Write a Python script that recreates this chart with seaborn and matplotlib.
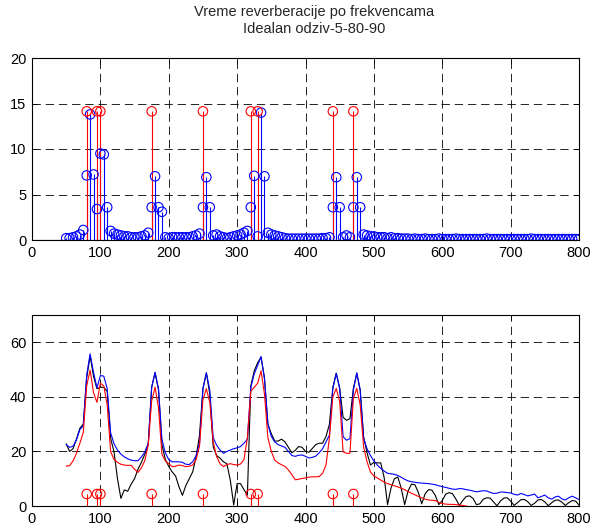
import numpy as np
import seaborn as sns
import matplotlib.pyplot as plt

# frequency axis (Hz), one point every 5 Hz
freq = np.arange(50, 805, 5)

# ideal modes (red stems)
modes = [80, 95, 100, 175, 250, 320, 330, 440, 470]
mode_top = [14.14, 14.14, 14.14, 14.14, 14.14, 14.14, 14.14, 14.14, 14.14]
mode_bot = [4.4, 4.4, 4.4, 4.4, 4.4, 4.4, 4.4, 4.4, 4.4]

# measured reverberation per frequency (blue stems, top)
t_stem = [
    0.2, 0.2, 0.3, 0.4, 0.6, 1.1, 7.1, 13.8, 7.2, 3.4,
    9.5, 9.4, 3.6, 1.0, 0.7, 0.6, 0.5, 0.4, 0.4, 0.3,
    0.3, 0.3, 0.4, 0.5, 0.8, 3.6, 7.0, 3.6, 3.1, 0.3,
    0.2, 0.3, 0.3, 0.3, 0.3, 0.3, 0.3, 0.4, 0.5, 0.7,
    3.6, 6.9, 3.6, 0.5, 0.6, 0.4, 0.3, 0.2, 0.3, 0.4,
    0.5, 0.6, 0.8, 1.0, 3.6, 7.05, 0.4, 14.0, 7.0, 0.8,
    0.6, 0.5, 0.4, 0.3, 0.2, 0.15, 0.15, 0.15, 0.15, 0.15,
    0.15, 0.15, 0.15, 0.15, 0.15, 0.2, 0.2, 0.3, 3.6, 6.9,
    3.6, 0.3, 0.5, 0.3, 3.6, 6.9, 3.6, 0.6, 0.5, 0.4,
    0.4, 0.3, 0.3, 0.3, 0.2, 0.3, 0.2, 0.2, 0.15, 0.15,
    0.15, 0.1, 0.15, 0.1, 0.1, 0.15, 0.1, 0.1, 0.1, 0.15,
    0.1, 0.1, 0.1, 0.1, 0.15, 0.1, 0.1, 0.1, 0.1, 0.1,
    0.1, 0.1, 0.1, 0.15, 0.1, 0.1, 0.1, 0.1, 0.1, 0.1,
    0.1, 0.1, 0.1, 0.1, 0.1, 0.1, 0.15, 0.1, 0.1, 0.1,
    0.1, 0.1, 0.1, 0.1, 0.1, 0.1, 0.1, 0.1, 0.1, 0.1,
    0.1,
]

# bottom curves
blue_line = [
    22.6, 21.5, 21.9, 24.2, 28.0, 29.3, 48.0, 55.8, 49.0, 43.3,
    47.8, 47.6, 43.0, 26.8, 22.8, 20.5, 19.0, 18.0, 17.3, 16.8,
    16.6, 16.6, 18.0, 19.8, 23.0, 43.5, 49.0, 43.0, 24.5, 19.5,
    17.0, 16.2, 16.2, 16.2, 16.0, 15.3, 15.2, 16.2, 18.5, 23.0,
    43.0, 48.8, 42.5, 25.0, 22.3, 20.5, 19.3, 20.0, 20.5, 21.0,
    21.3, 21.8, 23.0, 24.5, 43.5, 48.4, 51.5, 54.8, 46.5, 30.0,
    25.5, 23.5, 22.5, 22.0, 21.5, 20.0, 18.5, 18.2, 18.6, 18.7,
    18.2, 17.6, 17.8, 18.3, 19.5, 21.0, 23.5, 26.0, 43.1, 48.6,
    43.1, 25.4, 24.1, 24.7, 42.4, 48.8, 42.4, 24.7, 21.0, 18.5,
    16.5, 15.0, 13.8, 12.8, 12.0, 11.8, 11.6, 11.2, 10.5, 9.8,
    9.2, 8.9, 8.7, 8.5, 8.4, 8.3, 8.2, 8.0, 7.8, 7.4,
    7.1, 6.8, 6.5, 6.2, 6.1, 6.4, 6.3, 6.0, 5.8, 5.5,
    5.2, 5.4, 5.6, 5.5, 5.0, 4.6, 4.7, 5.1, 5.1, 4.9,
    4.8, 4.3, 4.0, 4.6, 4.2, 3.7, 4.0, 4.4, 3.0, 3.5,
    4.0, 3.0, 2.5, 3.3, 3.6, 2.6, 2.2, 3.0, 3.6, 3.0,
    2.4,
]
black_line = [
    22.8, 20.0, 21.0, 24.5, 28.5, 30.0, 47.0, 55.0, 47.5, 43.0,
    43.5, 43.5, 42.0, 24.8, 19.8, 10.0, 2.8, 5.9, 5.4, 8.0,
    10.0, 13.5, 16.0, 19.0, 22.5, 43.5, 48.8, 42.5, 22.5, 17.0,
    14.5, 12.5, 11.0, 7.0, 3.9, 7.5, 10.0, 12.5, 18.0, 26.0,
    43.0, 48.8, 41.0, 21.7, 18.5, 17.5, 16.2, 15.5, 9.5, 0.4,
    8.2, 8.2, 6.0, 4.0, 44.0, 49.5, 52.5, 54.5, 47.0, 30.0,
    26.5, 23.8, 23.8, 24.5, 23.5, 21.5, 19.5, 20.4, 21.8, 21.5,
    20.0, 19.7, 21.1, 22.5, 23.0, 23.0, 25.5, 30.0, 43.5, 48.7,
    43.1, 32.5, 31.4, 32.0, 43.1, 48.6, 42.5, 25.4, 19.5, 15.0,
    16.0, 15.8, 15.8, 10.5, 0.5, 6.5, 10.0, 10.6, 6.5, 0.5,
    5.5, 8.0, 7.8, 5.0, 0.8, 4.5, 6.0, 5.8, 3.8, 0.5,
    2.0, 4.3, 4.9, 4.5, 2.5, 0.2, 2.0, 3.5, 3.7, 2.8,
    0.5, 0.8, 2.5, 3.0, 2.9, 1.5, 0.1, 1.8, 2.9, 3.0,
    1.8, 0.2, 1.2, 2.3, 2.4, 1.6, 0.2, 1.0, 2.2, 2.4,
    1.5, 0.1, 1.2, 2.1, 2.2, 1.4, 0.2, 1.2, 2.0, 1.8,
    0.3,
]
red_line = [
    14.6, 14.8, 16.5, 19.3, 23.0, 27.0, 44.0, 49.8, 41.5, 38.0,
    45.0, 44.0, 37.0, 20.0, 17.0, 16.0, 15.3, 15.0, 14.9, 14.9,
    13.5, 12.3, 14.0, 16.6, 22.3, 38.5, 43.5, 36.0, 19.0, 16.5,
    15.5, 14.4, 14.6, 15.0, 14.8, 14.4, 14.6, 15.0, 17.0, 22.0,
    39.0, 43.0, 38.0, 23.5, 18.1, 15.5, 14.4, 15.2, 15.5, 15.2,
    15.0, 15.4, 17.0, 25.0, 42.0, 43.5, 45.0, 49.5, 41.0, 25.0,
    20.0, 16.8, 15.8, 15.1, 14.5, 13.2, 11.5, 9.6, 9.8, 10.1,
    10.3, 10.6, 10.7, 10.7, 10.8, 12.0, 15.0, 25.0, 40.0, 43.1,
    38.2, 19.9, 19.3, 19.3, 39.4, 43.1, 37.0, 21.7, 16.2, 12.5,
    11.0, 10.3, 9.5, 8.8, 8.2, 7.8, 7.4, 7.0, 6.5, 6.0,
    5.3, 4.7, 4.1, 3.5, 3.0, 2.5, 2.2, 2.1, 2.0, 1.3,
    0.9, 0.7, 0.6, 0.6, 0.5, 0.4, 0.2, 0.0, -0.5, -1.0,
    -1.5, -2.0, -2.5, -3.0, -3.5, -4.0, -4.5, -5.0, -5.5, -6.0,
    -6.5, -7.0, -7.5, -8.0, -8.5, -9.0, -9.5, -10.0, -10.5, -11.0,
    -11.5, -12.0, -12.5, -13.0, -13.5, -14.0, -14.5, -15.0, -15.5, -16.0,
    -16.5,
]

sns.set_style("ticks")
plt.rcParams["font.family"] = ["Liberation Sans", "DejaVu Sans"]
plt.rcParams["font.size"] = 10.5
plt.rcParams["lines.scale_dashes"] = False

fig = plt.figure(figsize=(5.92, 5.28), dpi=100)
ax1 = fig.add_axes([32 / 592, 1 - 240 / 528, 547 / 592, 182 / 528])
ax2 = fig.add_axes([32 / 592, 1 - 506 / 528, 547 / 592, 191 / 528])


def stems(ax, x, y, color, ms=6.8):
    ax.vlines(x, 0, y, color=color, lw=0.8, zorder=3)
    sns.scatterplot(x=x, y=y, ax=ax, marker="o", s=ms ** 2, facecolor="none",
                    edgecolor=color, linewidth=0.8, zorder=4, legend=False)


stems(ax1, freq, t_stem, "blue")
stems(ax1, modes, mode_top, "red")
ax1.axhline(0, color="k", lw=0.8, zorder=5)

sns.lineplot(x=freq, y=black_line, ax=ax2, color="k", lw=0.8, zorder=3)
sns.lineplot(x=freq, y=blue_line, ax=ax2, color="blue", lw=0.8, zorder=3)
sns.lineplot(x=freq, y=red_line, ax=ax2, color="red", lw=0.8, zorder=3)
stems(ax2, modes, mode_bot, "red")

for ax, top, yt in [(ax1, 20, [0, 5, 10, 15, 20]), (ax2, 70, [0, 20, 40, 60])]:
    ax.set_xlim(0, 800)
    ax.set_ylim(0, top)
    ax.set_xticks(range(0, 801, 100))
    ax.set_yticks(yt)
    ax.grid(True, color="k", lw=0.6, linestyle=(0, (6, 3.5)))
    ax.set_axisbelow(True)
    ax.tick_params(direction="in", top=True, right=True, length=3.5,
                   width=0.6, labelsize=10.5, pad=4, colors="k")
    for s in ax.spines.values():
        s.set_linewidth(0.8)
        s.set_color("k")
    ax.set_xlabel("")
    ax.set_ylabel("")

ax1.set_title("Vreme reverberacije po frekvencama\nIdealan odziv-5-80-90",
              fontsize=10.5, pad=18, linespacing=1.25, x=0.516)

fig.savefig("out.png", dpi=100, facecolor="white")
